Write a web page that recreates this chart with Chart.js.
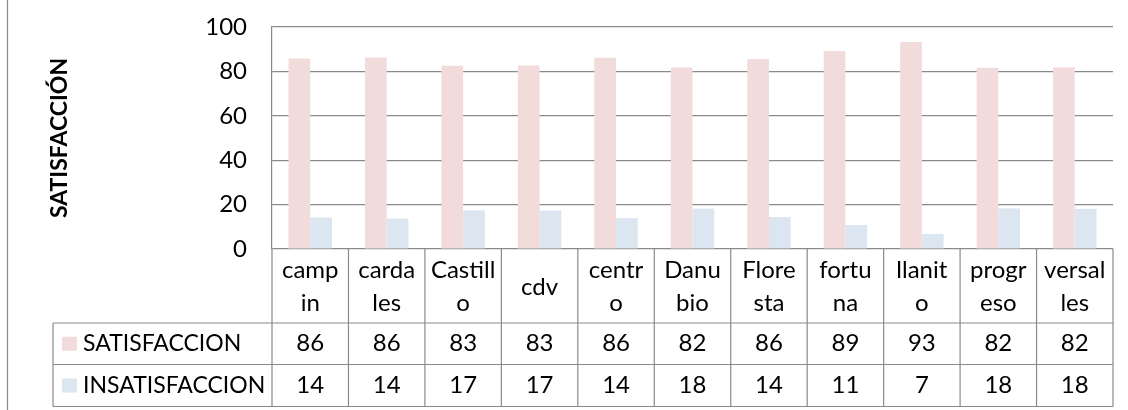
<!DOCTYPE html>
<html>
<head>
<meta charset="utf-8">
<script src="https://cdn.jsdelivr.net/npm/chart.js@4/dist/chart.umd.min.js"></script>
<style>
  html, body { margin: 0; padding: 0; background: #fff; }
  #wrap { position: relative; width: 1128px; height: 410px; }
</style>
</head>
<body>
<div id="wrap"><canvas id="chart-satisfaccion"></canvas></div>
<script>
// ================================================================
// SATISFACCIÓN por barrio — barras + tabla de datos (estilo Excel)
// ================================================================

var categorias     = ['campin','cardales','Castillo','cdv','centro','Danubio','Floresta','fortuna','llanito','progreso','versalles'];
var etiquetasTabla = [['camp','in'],['carda','les'],['Castill','o'],['cdv'],['centr','o'],['Danu','bio'],['Flore','sta'],['fortu','na'],['llanit','o'],['progr','eso'],['versal','les']];
var satisfaccion   = [85.8, 86.3, 82.6, 82.7, 86.1, 81.8, 85.6, 89.2, 93.2, 81.7, 81.9];
var insatisfaccion = [14.2, 13.7, 17.4, 17.3, 13.9, 18.2, 14.4, 10.8, 6.8, 18.3, 18.1];
var ticksY         = [0, 20, 40, 60, 80, 100];

var FUENTE   = 'Lato, "Open Sans", sans-serif';
var GRIS     = '#8a8a8a';
var ROSA     = '#F2DCDB';
var AZUL     = '#DCE6F1';

// ── Tabla de datos debajo del gráfico ───────────────────────────
var tablaDatos = {
    id: 'tablaDatos',
    afterDraw: function(chart) {
        var ctx = chart.ctx;
        var x = chart.scales.x;
        var area = chart.chartArea;
        var n = categorias.length;
        var paso = (area.right - area.left) / n;
        var yEje = area.bottom;
        var yFila1 = 323;
        var yFila2 = 364.5;
        var yFin = 406.5;
        var xTabla = 53;

        ctx.save();
        ctx.strokeStyle = GRIS;
        ctx.lineWidth = 1.2;

        // borde izquierdo del área del gráfico
        ctx.beginPath();
        ctx.moveTo(7.5, 0); ctx.lineTo(7.5, 410);
        ctx.stroke();

        // líneas horizontales
        [yFila1, yFila2, yFin].forEach(function(y) {
            ctx.beginPath();
            ctx.moveTo(xTabla, y); ctx.lineTo(area.right, y);
            ctx.stroke();
        });
        ctx.beginPath();
        ctx.moveTo(xTabla, yFila1); ctx.lineTo(xTabla, yFin);
        ctx.stroke();

        // líneas verticales entre categorías
        for (var i = 0; i <= n; i++) {
            var xv = area.left + i * paso;
            ctx.beginPath();
            ctx.moveTo(xv, yEje); ctx.lineTo(xv, yFin);
            ctx.stroke();
        }

        ctx.fillStyle = '#000';
        ctx.font = '24px ' + FUENTE;
        ctx.textAlign = 'center';
        ctx.textBaseline = 'middle';

        var cFila0 = (yEje + yFila1) / 2 + 1;
        var cFila1 = (yFila1 + yFila2) / 2;
        var cFila2 = (yFila2 + yFin) / 2;

        categorias.forEach(function(c, i) {
            var cx = x.getPixelForValue(i);
            var lineas = etiquetasTabla[i];
            var alto = 33;
            var y0 = cFila0 - (lineas.length - 1) * alto / 2;
            lineas.forEach(function(t, j) { ctx.fillText(t, cx, y0 + j * alto); });
            ctx.fillText(String(Math.round(satisfaccion[i])), cx, cFila1);
            ctx.fillText(String(Math.round(insatisfaccion[i])), cx, cFila2);
        });

        // claves de leyenda
        ctx.textAlign = 'left';
        ctx.font = '23px ' + FUENTE;
        chart.data.datasets.forEach(function(ds, k) {
            var cy = k === 0 ? cFila1 : cFila2;
            ctx.fillStyle = ds.backgroundColor;
            ctx.fillRect(62, cy - 7, 15, 14);
            ctx.fillStyle = '#000';
            ctx.fillText(ds.label, 83, cy);
        });
        ctx.restore();
    }
};

new Chart(document.getElementById('chart-satisfaccion'), {
    type: 'bar',
    data: {
        labels: categorias,
        datasets: [
            { label: 'SATISFACCION',   data: satisfaccion,   backgroundColor: ROSA, categoryPercentage: 0.568, barPercentage: 1 },
            { label: 'INSATISFACCION', data: insatisfaccion, backgroundColor: AZUL, categoryPercentage: 0.568, barPercentage: 1 }
        ]
    },
    options: {
        responsive: true,
        maintainAspectRatio: false,
        animation: false,
        layout: { padding: { top: 27, right: 15, bottom: 161, left: 0 } },
        plugins: {
            legend: { display: false },
            tooltip: { enabled: false }
        },
        scales: {
            x: { display: false },
            y: {
                min: 0,
                max: 100,
                afterFit: function(s) { s.width = 272; s.paddingTop = 0; s.paddingBottom = 0; },
                afterBuildTicks: function(s) { s.ticks = ticksY.map(function(v) { return { value: v }; }); },
                grid: { color: GRIS, lineWidth: 1.2, drawTicks: false },
                border: { display: true, color: GRIS, width: 1.2 },
                ticks: { padding: 25, color: '#000', font: { family: FUENTE, size: 24 } },
                title: {
                    display: true,
                    text: 'SATISFACCIÓN',
                    color: '#000',
                    font: { family: FUENTE, size: 23, weight: 'bold' },
                    padding: { top: 46, bottom: 0 }
                }
            }
        }
    },
    plugins: [tablaDatos]
});
</script>
</body>
</html>
